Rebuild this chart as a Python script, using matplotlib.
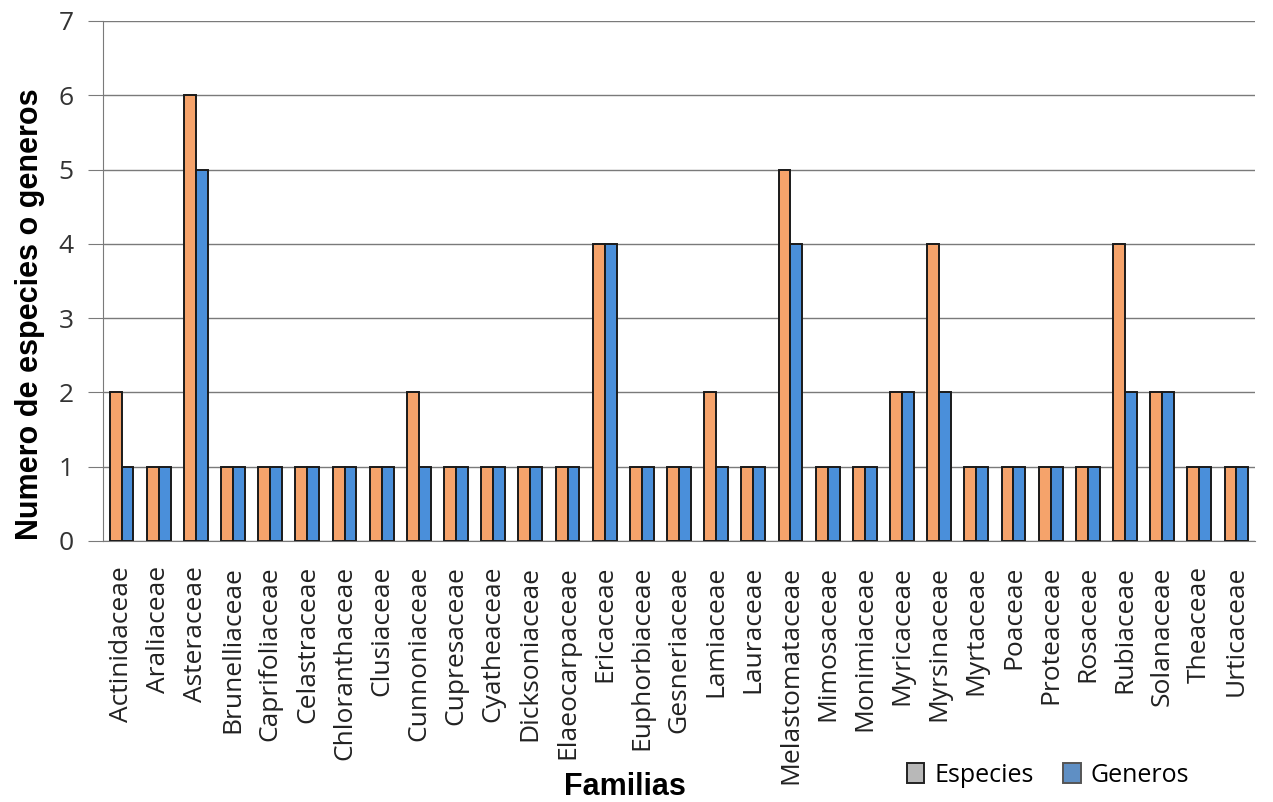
import matplotlib
matplotlib.use("Agg")
import matplotlib.pyplot as plt
import numpy as np

familias = ["Actinidaceae", "Araliaceae", "Asteraceae", "Brunelliaceae", "Caprifoliaceae",
            "Celastraceae", "Chloranthaceae", "Clusiaceae", "Cunnoniaceae", "Cupresaceae",
            "Cyatheaceae", "Dicksoniaceae", "Elaeocarpaceae", "Ericaceae", "Euphorbiaceae",
            "Gesneriaceae", "Lamiaceae", "Lauraceae", "Melastomataceae", "Mimosaceae",
            "Monimiaceae", "Myricaceae", "Myrsinaceae", "Myrtaceae", "Poaceae",
            "Proteaceae", "Rosaceae", "Rubiaceae", "Solanaceae", "Theaceae", "Urticaceae"]
especies = [2, 1, 6, 1, 1, 1, 1, 1, 2, 1, 1, 1, 1, 4, 1, 1, 2, 1, 5, 1, 1, 2, 4, 1, 1, 1, 1, 4, 2, 1, 1]
generos = [1, 1, 5, 1, 1, 1, 1, 1, 1, 1, 1, 1, 1, 4, 1, 1, 1, 1, 4, 1, 1, 2, 2, 1, 1, 1, 1, 2, 2, 1, 1]

fig = plt.figure(figsize=(12.73, 8.02), dpi=100)
ax = fig.add_axes([103/1273, 1 - 541/802, 1152/1273, 520/802])

x = np.arange(len(familias))
w = 0.32
ax.bar(x - w/2, especies, w, color="#F5A36B", edgecolor="#1a1a1a", linewidth=1.4, label="Especies", zorder=3)
ax.bar(x + w/2, generos, w, color="#4A8FDA", edgecolor="#1a1a1a", linewidth=1.4, label="Generos", zorder=3)

ax.set_xlim(-0.5, len(familias) - 0.5)
ax.set_ylim(0, 7)
ax.set_yticks(range(0, 8))
ax.yaxis.grid(True, color="#7a7a7a", linewidth=1.0, zorder=0)
ax.set_axisbelow(True)
for s in ["top", "right"]:
    ax.spines[s].set_visible(False)
ax.spines["left"].set_color("#7a7a7a")
ax.spines["bottom"].set_color("#7a7a7a")
ax.tick_params(axis="y", length=11, color="#7a7a7a", labelsize=19, labelcolor="#333333", pad=10)
ax.tick_params(axis="x", length=0, pad=18)
ax.set_xticks(x)
ax.set_xticklabels(familias, rotation=90, fontsize=19, family="Open Sans", color="#222222")
for lbl in ax.get_yticklabels():
    lbl.set_family("Open Sans")

fig.text(30/1273, 1 - 314/802, "Numero de especies o generos", rotation=90, ha="center", va="center",
         fontsize=22, fontweight="bold", family="Liberation Sans")
fig.text(625/1273, 1 - 787/802, "Familias", ha="center", va="center",
         fontsize=22, fontweight="bold", family="Liberation Sans", zorder=5)

from matplotlib.patches import Patch
handles = [Patch(facecolor="#b8b8b8", edgecolor="#222222", linewidth=1.4, label="Especies"),
           Patch(facecolor="#5f8fc4", edgecolor="#555555", linewidth=1.4, label="Generos")]
leg = fig.legend(handles=handles, loc="center", bbox_to_anchor=(1048/1273, 1 - 775/802), ncol=2, frameon=False,
                 prop={"family": "Open Sans", "size": 18}, handlelength=0.7, handleheight=0.9,
                 handletextpad=0.4, columnspacing=1.2)

fig.savefig("out.png", dpi=100)
